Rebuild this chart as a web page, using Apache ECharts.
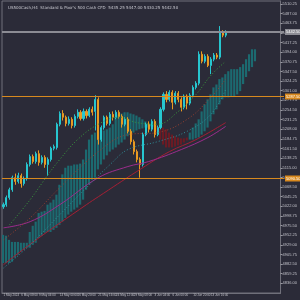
<!DOCTYPE html>
<html>
<head>
<meta charset="utf-8">
<script src="https://cdn.jsdelivr.net/npm/echarts@6/dist/echarts.min.js"></script>
<style>
html, body { margin: 0; padding: 0; background: #2b2b38; }
#chart { width: 300px; height: 300px; }
</style>
</head>
<body>
<div id="chart"></div>
<script>
// US500 H4 candles
const opens = [5021,5026,5043,5062,5091,5082,5096,5077,5089,5123, 5142,5130,5149,5128,5140,5123,5135,5162,5164,5220,
    5246,5237,5222,5232,5217,5239,5249,5234,5251,5241, 5256,5251,5280,5183,5212,5237,5222,5244,5237,5249,
    5239,5220,5232,5203,5178,5154,5135,5123,5195,5220, 5208,5227,5195,5212,5256,5292,5280,5297,5273,5295,
    5280,5261,5288,5271,5290,5309,5319,5389,5372,5384, 5362,5377,5387,5382,5442,5435];
const closes = [5026,5043,5062,5091,5082,5096,5077,5089,5123,5142, 5130,5149,5128,5140,5123,5135,5162,5166,5220,5246,
    5237,5222,5232,5217,5239,5249,5234,5251,5241,5256, 5249,5280,5183,5212,5237,5222,5244,5237,5249,5239,
    5220,5232,5203,5178,5154,5135,5123,5195,5220,5208, 5227,5195,5212,5256,5292,5280,5297,5273,5295,5280,
    5261,5288,5271,5290,5309,5319,5389,5372,5384,5362, 5377,5387,5382,5442,5435,5442];
const lows = [5016,5021,5038,5057,5074,5077,5067,5072,5084,5118, 5125,5125,5120,5123,5115,5096,5130,5157,5159,5215,
    5229,5215,5217,5210,5212,5234,5229,5229,5234,5237, 5241,5205,5171,5178,5207,5217,5217,5229,5232,5234,
    5212,5215,5198,5171,5147,5128,5091,5118,5191,5200, 5203,5188,5191,5208,5251,5273,5275,5256,5268,5273,
    5251,5256,5256,5266,5285,5304,5314,5367,5367,5358, 5341,5372,5377,5377,5430,5430];
const highs = [5031,5048,5067,5096,5101,5103,5101,5094,5128,5147, 5147,5154,5157,5145,5145,5140,5166,5171,5224,5251,
    5254,5241,5239,5237,5244,5256,5254,5258,5256,5261, 5263,5290,5285,5217,5241,5241,5249,5251,5254,5254,
    5244,5237,5237,5208,5183,5159,5140,5200,5224,5227, 5232,5232,5217,5261,5297,5300,5302,5302,5300,5300,
    5285,5292,5292,5295,5314,5324,5396,5396,5389,5389, 5382,5392,5392,5457,5447,5447];

// Ichimoku cloud (shifted forward)
const spanA = [4953,4951,4941,4936,4936,4936,4934,4934,4934,4960, 4975,4985,5006,5009,5011,5026,5031,5038,5050,5074,
    5099,5115,5120,5120,5123,5123,5125,5135,5159,5183, 5195,5200,5203,5203,5205,5208,5212,5220,5237,5244,
    5246,5249,5249,5246,5244,5241,5237,5232,5227,5222, 5220,5217,5203,5183,5171,5164,5164,5164,5166,5169,
    5171,5176,5181,5200,5212,5222,5232,5251,5268,5280, 5292,5309,5316,5329,5333,5341,5348,5353,5353,5353,
    5358,5365,5377,5389,5401,5401];
const spanB = [4885,4885,4885,4888,4898,4905,4912,4917,4922,4922, 4929,4934,4946,4951,4958,4960,4960,4965,4970,4977,
    4985,4994,5002,5009,5014,5019,5026,5038,5062,5074, 5086,5091,5111,5123,5135,5145,5154,5159,5164,5171,
    5176,5183,5191,5195,5200,5205,5208,5210,5212,5212, 5215,5215,5217,5220,5212,5208,5200,5195,5191,5188,
    5186,5186,5188,5183,5183,5186,5188,5195,5203,5212, 5227,5244,5256,5268,5280,5285,5285,5288,5288,5292,
    5300,5317,5334,5348,5358,5372];

// moving averages, [bar index, price]
const maFast = [[2,4977],[9,5038],[15,5098],[19,5135],[25,5183],[32,5220],[39,5237],[45,5224],[52,5220],[59,5251],[65,5292],[70,5338],[75,5372]];
const maMid = [[0,4941],[9,4994],[19,5067],[32,5154],[42,5195],[52,5200],[62,5232],[70,5285],[75,5329]];
const maSlow = [[0,4873],[9,4929],[19,5002],[29,5074],[36,5123],[42,5159],[52,5178],[62,5203],[70,5244],[75,5304]];
const ma100 = [[0,4970],[9,4985],[19,5026],[32,5091],[42,5118],[49,5130],[60,5159],[69,5188],[75,5215]];
const ma200 = [[0,4881],[11,4941],[28,5026],[32,5045],[45,5106],[56,5154],[65,5183],[75,5224]];

const currentPrice = 5442.5;
const upperLevel = 5287.5;
const lowerLevel = 5090.5;

const barCount = 94;
const tickIdx = [0, 6, 12, 19, 25, 32, 38, 44, 51, 57, 64, 70];
const tickLabels = ['1 May 2024', '6 May 08:00', '9 May 04:00', '14 May 00:00', '16 May 20:00', '21 May 16:00',
    '24 May 12:00', '29 May 08:00', '3 Jun 04:00', '6 Jun 00:00', '10 Jun 20:00', '13 Jun 16:00'];

const cats = [];
for (let i = 0; i < barCount; i++) {
    const k = tickIdx.indexOf(i);
    cats.push(k >= 0 ? tickLabels[k] : '');
}
const candles = opens.map((o, i) => [o, closes[i], lows[i], highs[i]]);
const cloud = spanA.map((a, i) => [i, a, spanB[i]]);
const showTick = (i) => tickIdx.indexOf(i) >= 0;

// horizontal price line across the whole grid, value box on the right axis
function priceLine(value, color, width) {
    return {
        type: 'custom',
        silent: true,
        data: [[0, value]],
        encode: { x: 0, y: 1 },
        z: 5,
        renderItem: (params, api) => {
            const p = api.coord([0, api.value(1)]);
            const y = Math.round(p[1]) + (width === 1 ? 0.5 : 0);
            return {
                type: 'group',
                children: [
                    { type: 'line', shape: { x1: 2, y1: y, x2: 284, y2: y }, style: { stroke: color, lineWidth: width } },
                    {
                        type: 'text', x: 285, y: y,
                        style: {
                            text: api.value(1).toFixed(2), fill: '#ffffff', fontSize: 4, fontFamily: 'Liberation Sans',
                            verticalAlign: 'middle', backgroundColor: color, padding: [1, 1]
                        }
                    }
                ]
            };
        }
    };
}

const chart = echarts.init(document.getElementById('chart'));
chart.setOption({
    animation: false,
    backgroundColor: '#2b2b38',
    title: {
        text: "US500Cash,H4  Standard & Poor's 500 Cash CFD  5435.25 5447.00 5430.25 5442.50",
        left: 3, top: 1,
        textStyle: { color: '#c8c8d0', fontSize: 4, fontWeight: 'normal', fontFamily: 'DejaVu Sans' }
    },
    grid: { left: 2, right: 16, top: 1, bottom: 7, show: true, borderColor: '#70707a', borderWidth: 1 },
    xAxis: {
        type: 'category',
        data: cats,
        boundaryGap: true,
        axisLine: { lineStyle: { color: '#70707a' } },
        axisTick: { interval: showTick, length: 2, lineStyle: { color: '#9a9aa2' } },
        axisLabel: { interval: showTick, align: 'left', margin: 1, fontSize: 3, color: '#c0c0c8', fontFamily: 'Liberation Sans' },
        splitLine: { show: false }
    },
    yAxis: {
        type: 'value',
        position: 'right',
        min: 4812.75,
        max: 5517.5,
        interval: 23.25,
        axisLine: { show: true, lineStyle: { color: '#70707a' } },
        axisTick: { show: true, length: 2, lineStyle: { color: '#9a9aa2' } },
        axisLabel: {
            fontSize: 4, color: '#c0c0c8', margin: 2, fontFamily: 'Liberation Sans',
            showMinLabel: false, showMaxLabel: false,
            formatter: (v) => v.toFixed(2)
        },
        splitLine: { show: false }
    },
    series: [
        {
            type: 'custom',
            name: 'cloud',
            data: cloud,
            encode: { x: 0, y: [1, 2] },
            renderItem: (params, api) => {
                const i = api.value(0);
                const a = api.coord([i, api.value(1)]);
                const b = api.coord([i, api.value(2)]);
                const w = api.size([1, 0])[0];
                return {
                    type: 'rect',
                    shape: { x: a[0] - w / 2, y: Math.min(a[1], b[1]), width: w - 0.8, height: Math.abs(a[1] - b[1]) },
                    style: { fill: api.value(1) >= api.value(2) ? '#1c6a70' : '#6a1b24' }
                };
            }
        },
        { type: 'line', data: ma200, smooth: 0.4, symbol: 'none', lineStyle: { color: '#a41f34', width: 1 } },
        { type: 'line', data: ma100, smooth: 0.4, symbol: 'none', lineStyle: { color: '#9c2c8c', width: 1 } },
        { type: 'line', data: maSlow, smooth: 0.4, symbol: 'none', lineStyle: { color: '#2f8e98', width: 1, type: [1, 2] } },
        { type: 'line', data: maMid, smooth: 0.4, symbol: 'none', lineStyle: { color: '#9a4030', width: 1, type: [1, 2] } },
        { type: 'line', data: maFast, smooth: 0.4, symbol: 'none', lineStyle: { color: '#3a9a3c', width: 1, type: [1, 2] } },
        priceLine(upperLevel, '#d8891e', 1),
        priceLine(lowerLevel, '#d8891e', 1),
        priceLine(currentPrice, '#8c8c94', 2),
        {
            type: 'candlestick',
            data: candles,
            barWidth: 1.6,
            itemStyle: {
                color: '#27c6cf', color0: '#e99a22',
                borderColor: '#27c6cf', borderColor0: '#e99a22', borderWidth: 1
            }
        }
    ]
});
</script>
</body>
</html>
